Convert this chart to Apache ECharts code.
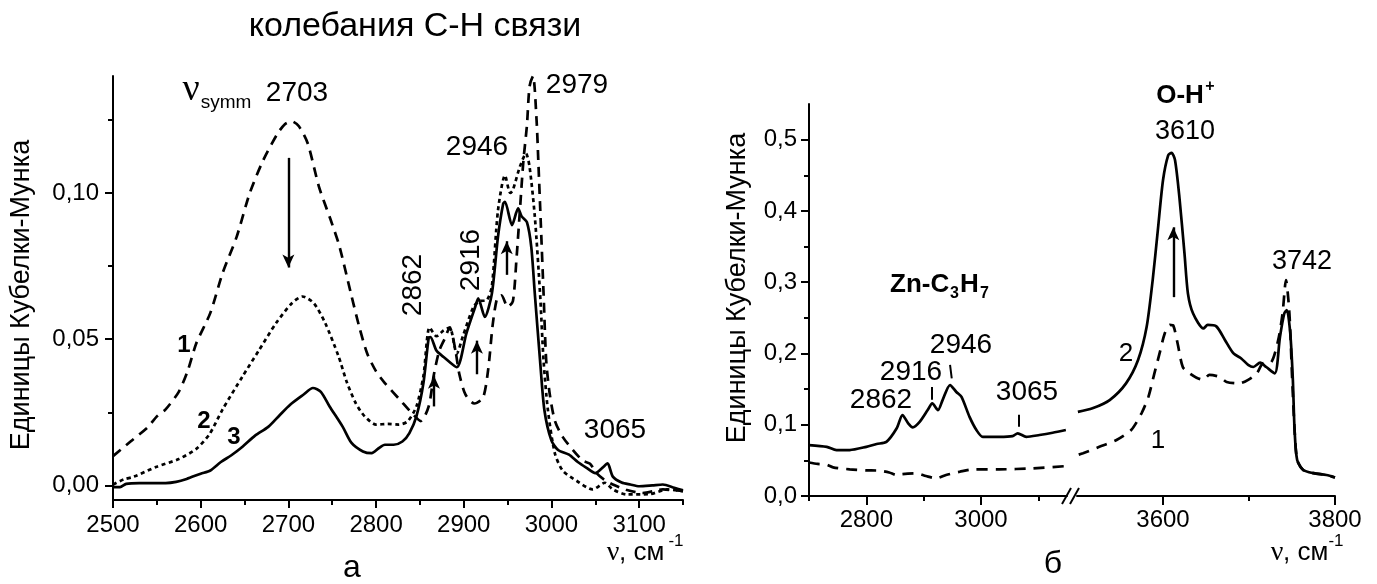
<!DOCTYPE html>
<html><head><meta charset="utf-8">
<script src="https://cdn.jsdelivr.net/npm/echarts@6/dist/echarts.min.js"></script>
<style>html,body{margin:0;padding:0;background:#fff}#c{width:1377px;height:584px}</style>
</head><body><div id="c"></div>
<script>
// ---------- Panel a: left (C-H region) ----------
const c1x = [2500,2520,2540,2550,2560,2575,2585,2595,2611,2625,2641,2656,2671,2687,2696,2704,2712,2722,2735,2748,2758,2771,2781,2790,2800,2810,2828,2840,2851,2860,2866,2872,2878,2884,2890,2895,2902,2912,2922,2928,2933,2938,2943,2950,2956,2960,2964,2968,2972,2975,2979,2983,2985,2988,2991,2994,2998,3004,3013,3025,3036,3044,3052,3060,3070,3085,3104,3127,3150];
const c1y = [0.010,0.015,0.020,0.0236,0.026,0.032,0.039,0.0486,0.059,0.0726,0.085,0.100,0.111,0.120,0.1235,0.1245,0.1228,0.117,0.102,0.091,0.082,0.066,0.054,0.045,0.039,0.035,0.029,0.025,0.022,0.027,0.038,0.046,0.050,0.054,0.047,0.038,0.031,0.028,0.030,0.040,0.055,0.064,0.065,0.061,0.063,0.077,0.094,0.111,0.123,0.1364,0.140,0.125,0.111,0.0884,0.0656,0.0427,0.0313,0.022,0.0165,0.0119,0.0084,0.0074,0.004,0.002,0.0003,-0.0015,-0.0026,-0.0014,-0.002];

const c2x = [2500,2512,2524,2549,2575,2595,2610,2625,2648,2666,2686,2704,2716,2729,2742,2757,2767,2777,2787,2800,2813,2826,2836,2846,2854,2861,2869,2877,2884,2892,2899,2911,2918,2926,2932,2939,2947,2953,2956,2964,2971,2975,2981,2987,2991,2996,3004,3013,3029,3047,3061,3070,3086,3112,3132,3150];
const c2y = [0.0003,0.002,0.003,0.0063,0.009,0.0125,0.0175,0.026,0.0374,0.046,0.0555,0.0623,0.0646,0.0623,0.0555,0.0443,0.035,0.028,0.0236,0.0208,0.021,0.0208,0.0219,0.027,0.0374,0.054,0.051,0.053,0.054,0.045,0.051,0.061,0.063,0.0633,0.068,0.094,0.106,0.100,0.101,0.109,0.1135,0.109,0.092,0.0656,0.0427,0.0256,0.0108,0.005,0.0015,-0.0014,0.0009,-0.0014,-0.0031,-0.003,-0.0014,-0.002];

const c3x = [2500,2508,2515,2530,2560,2572,2584,2600,2611,2623,2635,2648,2662,2677,2690,2702,2717,2728,2737,2747,2762,2772,2785,2795,2803,2810,2820,2830,2838,2846,2854,2860,2862,2869,2877,2892,2903,2913,2916.5,2924,2932,2939,2945,2947,2955,2962,2966,2972,2977,2981,2987,2992,3000,3008,3020,3030,3040,3050,3058,3064,3070,3080,3090,3100,3115,3127,3140,3150];
const c3y = [-0.0006,-0.0006,0.0005,0.0008,0.0008,0.0012,0.0022,0.004,0.0051,0.008,0.0103,0.0133,0.017,0.020,0.024,0.0276,0.031,0.0333,0.032,0.027,0.020,0.0145,0.0116,0.011,0.0127,0.0139,0.0139,0.015,0.0179,0.0236,0.035,0.0505,0.0507,0.046,0.0439,0.0404,0.052,0.061,0.064,0.0576,0.0655,0.085,0.0964,0.097,0.089,0.0947,0.092,0.090,0.0815,0.0656,0.0427,0.0256,0.0153,0.012,0.0105,0.008,0.006,0.0042,0.006,0.0075,0.003,0.001,0.0003,-0.0003,0,0.0003,-0.0008,-0.0017];

// ---------- Panel б: right (broken axis) ----------
const r1ax = [2700,2715,2731,2742,2771,2800,2823,2840,2853,2863,2887,2904,2922,2939,2963,2986,3032,3090,3148];
const r1ay = [0.047,0.045,0.044,0.0402,0.0374,0.036,0.0355,0.033,0.0294,0.0308,0.0318,0.028,0.0248,0.0294,0.034,0.0374,0.0374,0.0388,0.042];
const r2ax = [2700,2731,2748,2771,2800,2818,2835,2853,2863,2873,2881,2893,2907,2915,2925,2933,2946,2957,2966,2980,2992,3003,3032,3055,3064,3079,3102,3125,3148];
const r2ay = [0.0715,0.069,0.0645,0.0645,0.069,0.073,0.076,0.095,0.1136,0.102,0.0963,0.104,0.1206,0.130,0.1206,0.1346,0.1557,0.146,0.139,0.111,0.0926,0.083,0.083,0.084,0.088,0.083,0.0856,0.0888,0.0926];
const r1bx = [3502,3507,3526,3546,3563,3575,3583,3590,3596,3602,3608,3612,3617,3623,3631,3639,3647,3654,3666,3674,3689,3699,3709,3716,3726,3734,3739,3743,3747,3750,3753,3756,3763,3775,3790,3800];
const r1by = [0.058,0.060,0.069,0.0785,0.0926,0.116,0.139,0.172,0.200,0.228,0.240,0.239,0.214,0.181,0.172,0.166,0.163,0.170,0.167,0.160,0.158,0.163,0.172,0.186,0.188,0.219,0.256,0.303,0.256,0.17,0.0926,0.0505,0.0365,0.032,0.0294,0.026];
const r2bx = [3501,3518,3538,3557,3571,3581,3588,3594,3600,3606,3610,3614,3619,3625,3629,3635,3647,3652,3662,3672,3682,3691,3699,3705,3713,3720,3730,3736,3741,3744,3748,3751,3753,3756,3763,3775,3790,3800];
const r2by = [0.118,0.123,0.1346,0.158,0.1907,0.2374,0.303,0.373,0.443,0.478,0.4815,0.471,0.42,0.340,0.284,0.256,0.235,0.240,0.238,0.219,0.200,0.193,0.184,0.181,0.187,0.181,0.172,0.223,0.256,0.261,0.228,0.163,0.0926,0.0505,0.0365,0.032,0.0294,0.026];

// ---------- ticks ----------
const aXTicks = [2500,2600,2700,2800,2900,3000,3100];
const aXMinor = [2550,2650,2750,2850,2950,3050,3150];
const aYTicks = [0,0.05,0.10];
const aYMinor = [0.025,0.075,0.125];
const bXTicks1 = [2800,3000];
const bXMinor1 = [2700,2900,3100];
const bXTicks2 = [3600,3800];
const bXMinor2 = [3700];
const bYTicks = [0,0.1,0.2,0.3,0.4,0.5];
const bYMinor = [0.05,0.15,0.25,0.35,0.45];

// arrows & leader marks (data coordinates: x1, y1 -> x2, y2 head)
const arrowsA = [[2700,0.112,2700,0.0745],[2866,0.027,2866,0.0375],[2915,0.038,2915,0.0495],[2949,0.072,2949,0.0835]];
const arrowsB = [[3612,0.279,3612,0.377]];
const leadersB = [[2914,0.135,2914,0.153],[2949,0.165,2946,0.184],[3065,0.097,3065,0.114]];

const FONT = 'Liberation Sans';
const SERIF = 'Liberation Serif';
const zip = (xs, ys) => xs.map((x, i) => [x, ys[i]]);
const BLACK = '#000';

function xAx(g, min, max, ticks, len, labels, showLine) {
  return {
    gridIndex: g, type: 'value', min, max, position: 'bottom',
    axisLine: { show: showLine, onZero: false, lineStyle: { color: BLACK, width: 2 } },
    axisTick: { show: true, customValues: ticks, length: len, lineStyle: { color: BLACK, width: 2 } },
    axisLabel: labels ? { show: true, customValues: ticks, fontSize: 24, color: BLACK, fontFamily: FONT, margin: labels.margin, formatter: v => String(Math.round(v)) } : { show: false },
    splitLine: { show: false }
  };
}
function yAx(g, min, max, ticks, len, labels, showLine, show) {
  return {
    gridIndex: g, type: 'value', min, max, position: 'left', show: show !== false,
    axisLine: { show: showLine, onZero: false, lineStyle: { color: BLACK, width: 2 } },
    axisTick: { show: true, customValues: ticks, length: len, lineStyle: { color: BLACK, width: 2 } },
    axisLabel: labels ? { show: true, customValues: ticks, fontSize: 24, color: BLACK, fontFamily: FONT, margin: labels.margin, formatter: v => v.toFixed(labels.dec).replace('.', ',') } : { show: false },
    splitLine: { show: false }
  };
}
function line(xi, yi, data, type, extra) {
  return Object.assign({
    type: 'line', xAxisIndex: xi, yAxisIndex: yi, data, showSymbol: false, symbol: 'none',
    smooth: 0.25, silent: true, animation: false,
    lineStyle: { color: BLACK, width: 2.7, type }
  }, extra || {});
}
function arrowML(list, w) {
  return {
    silent: true, animation: false, symbol: ['none', 'arrow'], symbolSize: 12,
    label: { show: false }, emphasis: { disabled: true },
    itemStyle: { color: BLACK },
    lineStyle: { color: BLACK, width: w, type: 'solid' },
    data: list.map(a => [
      { coord: [a[0], a[1]], symbol: 'none' },
      { coord: [a[2], a[3]], symbol: 'arrow', symbolSize: [9, 13] }
    ])
  };
}
function plainML(list) {
  return {
    silent: true, animation: false, symbol: ['none', 'none'],
    label: { show: false }, emphasis: { disabled: true },
    lineStyle: { color: BLACK, width: 2, type: 'solid' },
    data: list.map(a => [{ coord: [a[0], a[1]] }, { coord: [a[2], a[3]] }])
  };
}
function T(text, x, y, size, o) {
  o = o || {};
  return {
    type: 'text', x, y, rotation: o.rot || 0, silent: true, z: 100,
    style: {
      text, x: 0, y: 0, fill: BLACK,
      font: (o.bold ? 'bold ' : '') + size + 'px "' + (o.family || FONT) + '"',
      align: o.align || 'center', verticalAlign: 'middle',
      textAlign: o.align || 'center', textVerticalAlign: 'middle'
    }
  };
}

const graphics = [
  T('колебания С-Н связи', 415, 27, 34),
  T('Единицы Кубелки-Мунка', 22, 295, 27, { rot: Math.PI / 2 }),
  T('Единицы Кубелки-Мунка', 738, 288, 27, { rot: Math.PI / 2 }),
  // panel a annotations
  T('ν', 191, 90, 38, { family: SERIF }),
  T('symm', 226, 103, 19),
  T('2703', 297, 93, 28),
  T('2979', 577, 85, 28),
  T('2946', 477, 147, 28),
  T('2862', 413, 285, 28, { rot: Math.PI / 2 }),
  T('2916', 471.5, 260, 28, { rot: Math.PI / 2 }),
  T('3065', 615, 430, 28),
  T('1', 184, 345, 24, { bold: true }),
  T('2', 204, 421, 24, { bold: true }),
  T('3', 234, 437, 24, { bold: true }),
  T('ν', 613, 553, 28, { family: SERIF }),
  T(', см', 619, 553, 26, { align: 'left' }),
  T('-1', 676, 541, 17),
  T('а', 352, 568, 32),
  // panel б annotations
  T('O-H', 1180, 96, 26, { bold: true }),
  T('+', 1210, 87, 16, { bold: true }),
  T('3610', 1185, 132, 27),
  T('3742', 1302, 262, 27),
  T('2', 1126, 354, 26),
  T('1', 1158, 441, 26),
  T('Zn-C', 890, 284.5, 26, { bold: true, align: 'left' }),
  T('3', 950, 294, 16, { bold: true, align: 'left' }),
  T('H', 960, 284.5, 26, { bold: true, align: 'left' }),
  T('7', 980, 294, 16, { bold: true, align: 'left' }),
  T('2862', 881, 400, 28),
  T('2916', 911, 372, 28),
  T('2946', 961, 345, 28),
  T('3065', 1027, 392, 28),
  T('ν', 1277, 553, 28, { family: SERIF }),
  T(', см', 1283, 553, 26, { align: 'left' }),
  T('-1', 1336, 541, 17),
  T('б', 1053, 564, 32),
  // axis break marks
  { type: 'line', silent: true, z: 100, shape: { x1: 1062, y1: 504, x2: 1071, y2: 488 }, style: { stroke: BLACK, lineWidth: 2 } },
  { type: 'line', silent: true, z: 100, shape: { x1: 1070, y1: 504, x2: 1079, y2: 488 }, style: { stroke: BLACK, lineWidth: 2 } }
];

const option = {
  backgroundColor: '#fff',
  animation: false,
  textStyle: { fontFamily: FONT },
  grid: [
    { left: 113, top: 76, width: 570, height: 424 },
    { left: 809, top: 104, width: 258, height: 392 },
    { left: 1077, top: 104, width: 258, height: 392 }
  ],
  xAxis: [
    xAx(0, 2500, 3150, aXTicks, 8, { margin: 13 }, true),
    xAx(0, 2500, 3150, aXMinor, 5, null, false),
    xAx(1, 2700, 3150, bXTicks1, 9, { margin: 12 }, true),
    xAx(1, 2700, 3150, bXMinor1, 5, null, false),
    xAx(2, 3500, 3800, bXTicks2, 9, { margin: 12 }, true),
    xAx(2, 3500, 3800, bXMinor2, 5, null, false)
  ],
  yAxis: [
    yAx(0, -0.005, 0.14, aYTicks, 8, { margin: 14, dec: 2 }, true),
    yAx(0, -0.005, 0.14, aYMinor, 5, null, false),
    yAx(1, 0, 0.55, bYTicks, 8, { margin: 12, dec: 1 }, true),
    yAx(1, 0, 0.55, bYMinor, 5, null, false),
    yAx(2, 0, 0.55, [], 0, null, false, false)
  ],
  series: [
    line(0, 0, zip(c1x, c1y), [10, 7]),
    line(0, 0, zip(c2x, c2y), [4, 3.5]),
    line(0, 0, zip(c3x, c3y), 'solid', { markLine: arrowML(arrowsA, 2.4) }),
    line(2, 2, zip(r1ax, r1ay), [11, 8]),
    line(2, 2, zip(r2ax, r2ay), 'solid', { markLine: plainML(leadersB) }),
    line(4, 4, zip(r1bx, r1by), [11, 8]),
    line(4, 4, zip(r2bx, r2by), 'solid', { markLine: arrowML(arrowsB, 2.4) })
  ],
  graphic: graphics
};

const chart = echarts.init(document.getElementById('c'), null, { renderer: 'canvas' });
chart.setOption(option);
</script>
</body></html>
